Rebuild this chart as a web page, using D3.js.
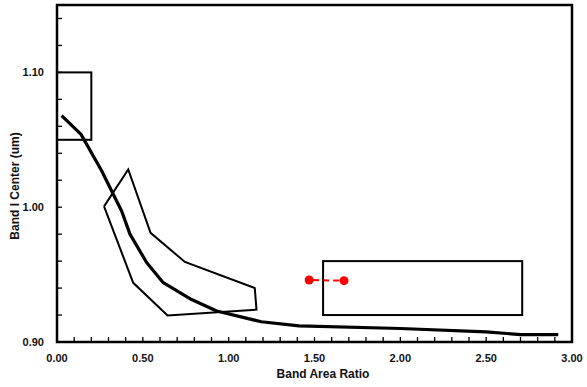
<!DOCTYPE html>
<html>
<head>
<meta charset="utf-8">
<script src="https://cdn.jsdelivr.net/npm/d3@7"></script>
<style>
  body { margin: 0; background: #fff; }
  text { font-family: Arial, "Liberation Sans", sans-serif; font-weight: bold; fill: #111; }
</style>
</head>
<body>
<div id="chart"></div>
<script>
// model curve (thick line)
const curveX = [0.027, 0.14, 0.26, 0.377, 0.425, 0.522, 0.619, 0.784, 0.93, 1.19, 1.41, 2.0, 2.5, 2.7, 2.92];
const curveY = [1.068, 1.054, 1.027, 0.997, 0.980, 0.959, 0.944, 0.9315, 0.923, 0.915, 0.912, 0.910, 0.9075, 0.9055, 0.9055];

// thin polygon region
const polyX = [0.274, 0.415, 0.545, 0.745, 1.152, 1.162, 0.644, 0.444, 0.274];
const polyY = [1.0006, 1.028, 0.981, 0.9594, 0.940, 0.924, 0.9196, 0.9439, 1.0006];

// rectangles: [x0, x1, y0, y1]
const boxA = [0, 0.2, 1.05, 1.10];
const boxB = [1.55, 2.71, 0.92, 0.96];

// red points
const redX = [1.469, 1.672];
const redY = [0.946, 0.9455];

const xTicks = [0, 0.5, 1.0, 1.5, 2.0, 2.5, 3.0];
const yTicks = [0.90, 1.00, 1.10];

const margin = { top: 5, right: 15, bottom: 45, left: 57 };
const W = 587, H = 387;
const width = W - margin.left - margin.right;
const height = H - margin.top - margin.bottom;

const svg = d3.select('#chart').append('svg')
  .attr('width', W).attr('height', H);
const g = svg.append('g')
  .attr('transform', `translate(${margin.left},${margin.top})`);

const x = d3.scaleLinear().domain([0, 3]).range([0, width]);
const y = d3.scaleLinear().domain([0.9, 1.15]).range([height, 0]);

// minor ticks (inside)
const xMinor = d3.range(0, 31).map(i => i / 10);
const yMinor = d3.range(0, 13).map(i => 0.9 + i * 0.02);

g.append('g').selectAll('line').data(xMinor).enter().append('line')
  .attr('x1', d => x(d)).attr('x2', d => x(d))
  .attr('y1', height).attr('y2', height - 5)
  .attr('stroke', '#000').attr('stroke-width', 1.3);
g.append('g').selectAll('line').data(yMinor).enter().append('line')
  .attr('x1', 0).attr('x2', 5)
  .attr('y1', d => y(d)).attr('y2', d => y(d))
  .attr('stroke', '#000').attr('stroke-width', 1.3);

// tick labels
g.append('g').selectAll('text').data(xTicks).enter().append('text')
  .attr('x', d => x(d)).attr('y', height + 20)
  .attr('text-anchor', 'middle').style('font-size', '11px')
  .text(d => d3.format('.2f')(d));
g.append('g').selectAll('text').data(yTicks).enter().append('text')
  .attr('x', -13).attr('y', d => y(d) + 4)
  .attr('text-anchor', 'end').style('font-size', '11px')
  .text(d => d3.format('.2f')(d));

const line = d3.line().x(d => x(d[0])).y(d => y(d[1]));

// rectangles
[boxA, boxB].forEach(b => {
  g.append('rect')
    .attr('x', x(b[0])).attr('y', y(b[3]))
    .attr('width', x(b[1]) - x(b[0])).attr('height', y(b[2]) - y(b[3]))
    .attr('fill', 'none').attr('stroke', '#000').attr('stroke-width', 2);
});

// polygon
g.append('path')
  .attr('d', line(polyX.map((v, i) => [v, polyY[i]])))
  .attr('fill', 'none').attr('stroke', '#000').attr('stroke-width', 2)
  .attr('stroke-linejoin', 'miter');

// thick curve
g.append('path')
  .attr('d', line(curveX.map((v, i) => [v, curveY[i]])))
  .attr('fill', 'none').attr('stroke', '#000').attr('stroke-width', 3.2)
  .attr('stroke-linejoin', 'round');

// red dashed + points
const red = redX.map((v, i) => [v, redY[i]]);
g.append('path')
  .attr('d', line(red))
  .attr('fill', 'none').attr('stroke', '#f00').attr('stroke-width', 2)
  .attr('stroke-dasharray', '6,4').attr('stroke-dashoffset', -4);
g.selectAll('circle.pt').data(red).enter().append('circle')
  .attr('class', 'pt')
  .attr('cx', d => x(d[0])).attr('cy', d => y(d[1])).attr('r', 4.5)
  .attr('fill', '#f00');

// frame
g.append('rect')
  .attr('x', 0).attr('y', 0).attr('width', width).attr('height', height)
  .attr('fill', 'none').attr('stroke', '#000').attr('stroke-width', 2.5);

// axis titles
svg.append('text')
  .attr('x', 323).attr('y', 378)
  .attr('text-anchor', 'middle').style('font-size', '12px')
  .text('Band Area Ratio');
svg.append('text')
  .attr('transform', 'translate(19,186) rotate(-90)')
  .attr('text-anchor', 'middle').style('font-size', '12px')
  .text('Band I Center (um)');
</script>
</body>
</html>
